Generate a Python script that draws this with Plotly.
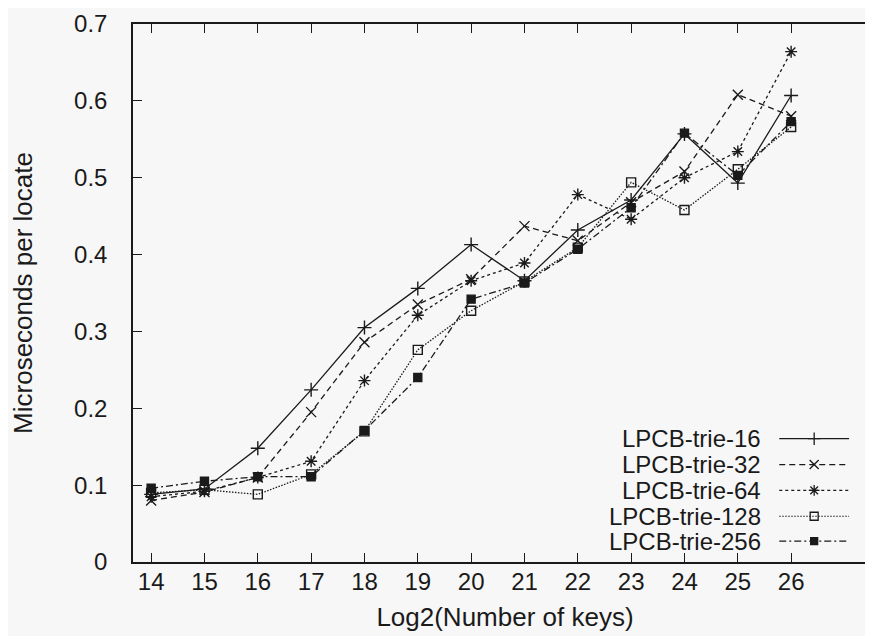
import plotly.graph_objects as go

x_vals = [14, 15, 16, 17, 18, 19, 20, 21, 22, 23, 24, 25, 26]
trie_16 = [0.088, 0.095, 0.148, 0.224, 0.305, 0.356, 0.413, 0.366, 0.432, 0.471, 0.557, 0.493, 0.607]
trie_32 = [0.080, 0.091, 0.110, 0.195, 0.286, 0.335, 0.368, 0.437, 0.418, 0.468, 0.508, 0.608, 0.580]
trie_64 = [0.085, 0.092, 0.110, 0.131, 0.236, 0.321, 0.366, 0.389, 0.478, 0.446, 0.500, 0.534, 0.664]
trie_128 = [0.090, 0.094, 0.088, 0.114, 0.170, 0.276, 0.327, 0.365, 0.409, 0.494, 0.458, 0.511, 0.566]
trie_256 = [0.096, 0.105, 0.111, 0.111, 0.171, 0.240, 0.342, 0.363, 0.407, 0.461, 0.558, 0.503, 0.573]

series_names = ["LPCB-trie-16", "LPCB-trie-32", "LPCB-trie-64", "LPCB-trie-128", "LPCB-trie-256"]
series_vals = [trie_16, trie_32, trie_64, trie_128, trie_256]
dashes = ["solid", "6px,4px", "3px,3px", "1.5px,1.5px", "7px,3px,2px,3px"]
symbols = ["cross-thin-open", "x-thin-open", "asterisk-open", "square-open", "square"]
msizes = [10, 10, 10, 9, 8]

INK = "#1a1a1a"
FONT = "Liberation Sans, Arial, sans-serif"
TICK_FS = 24
TITLE_FS = 26
LEG_FS = 24

fig = go.Figure()
for name, vals, dash, sym, ms in zip(series_names, series_vals, dashes, symbols, msizes):
    fig.add_trace(go.Scatter(
        x=x_vals, y=vals, name=name, mode="lines+markers",
        line=dict(color=INK, width=1.3, dash=dash),
        marker=dict(symbol=sym, size=ms, color=INK, line=dict(color=INK, width=1.4)),
        showlegend=False,
    ))

# custom gnuplot-style legend (text left, sample right) on a pixel overlay axis
leg_rows_y = [430, 456, 482, 508, 533]
for name, ry, dash, sym, ms in zip(series_names, leg_rows_y, dashes, symbols, msizes):
    fig.add_trace(go.Scatter(
        x=[773, 843], y=[ry, ry], mode="lines", xaxis="x2", yaxis="y2",
        line=dict(color=INK, width=1.2, dash=dash), showlegend=False, hoverinfo="skip",
    ))
    fig.add_trace(go.Scatter(
        x=[808], y=[ry], mode="markers", xaxis="x2", yaxis="y2",
        marker=dict(symbol=sym, size=ms - 1, color=INK, line=dict(color=INK, width=1.3)),
        showlegend=False, hoverinfo="skip",
    ))
    fig.add_annotation(x=756, y=ry, xref="x2", yref="y2", text=name, showarrow=False,
                       xanchor="right", yanchor="middle", borderpad=0,
                       font=dict(family=FONT, size=LEG_FS, color=INK))

axis_common = dict(
    showgrid=False, zeroline=False, showline=True, linecolor=INK, linewidth=1.5,
    mirror="ticks", ticks="inside", ticklen=9, tickwidth=1.3, tickcolor=INK,
    tickfont=dict(family=FONT, size=TICK_FS, color=INK), ticklabeloverflow="allow",
)

fig.update_layout(
    width=873, height=636,
    margin=dict(l=125, r=2, t=13, b=82),
    paper_bgcolor="#f7f7f7", plot_bgcolor="#f7f7f7",
    xaxis=dict(range=[13.66, 27.61], tickvals=x_vals, ticktext=[str(v) for v in x_vals],
               title=dict(text="Log2(Number of keys)", font=dict(family=FONT, size=TITLE_FS, color=INK), standoff=14),
               ticklabelstandoff=-3, **axis_common),
    yaxis=dict(range=[0, 0.7], tickvals=[0, 0.1, 0.2, 0.3, 0.4, 0.5, 0.6, 0.7],
               ticktext=["0", "0.1", "0.2", "0.3", "0.4", "0.5", "0.6", "0.7"],
               title=dict(text="Microseconds per locate", font=dict(family=FONT, size=TITLE_FS, color=INK), standoff=40),
               ticklabelstandoff=19, **axis_common),
    xaxis2=dict(range=[125, 871], overlaying="x", visible=False, fixedrange=True),
    yaxis2=dict(range=[554, 13], overlaying="y", visible=False, fixedrange=True),
)

fig.write_html("out.html")
